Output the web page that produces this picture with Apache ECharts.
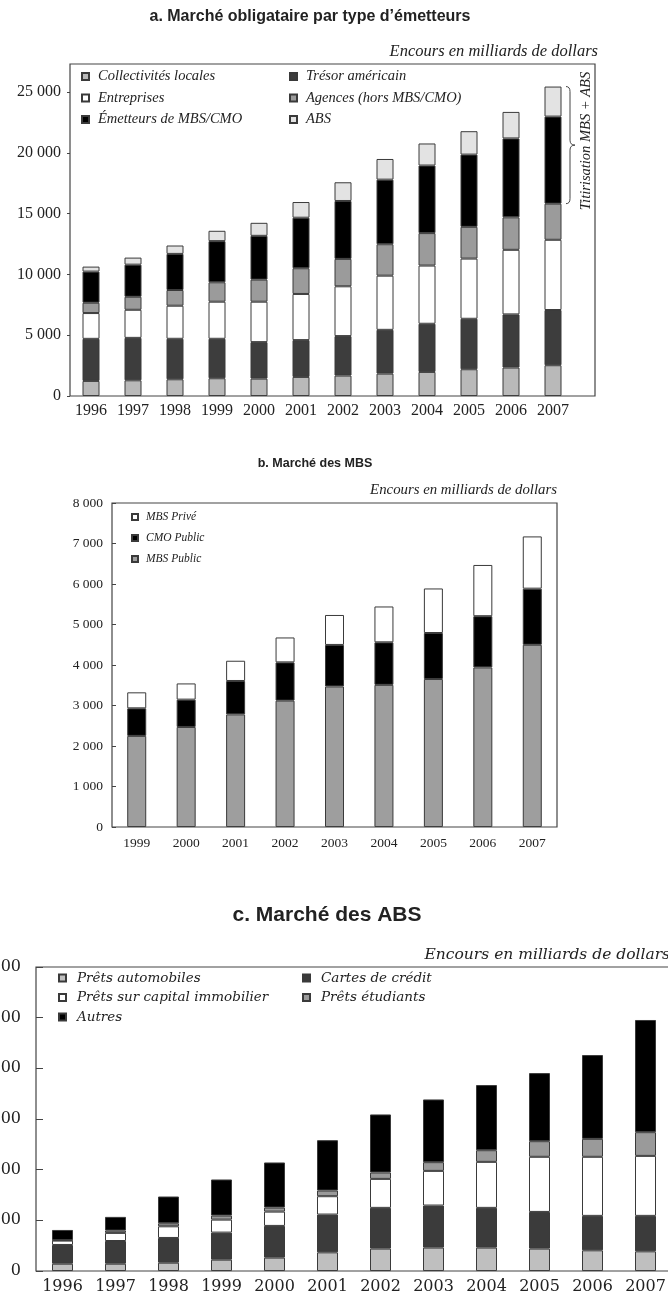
<!DOCTYPE html>
<html><head><meta charset="utf-8">
<script src="https://cdn.jsdelivr.net/npm/echarts@6/dist/echarts.min.js"></script>
<style>html,body{margin:0;padding:0;background:#fff}#c{width:668px;height:1294px}</style>
</head><body><div id="c"></div>
<script>
// ---------- Chart a data ----------
const yearsA = ['1996','1997','1998','1999','2000','2001','2002','2003','2004','2005','2006','2007'];
const collectivites = [1240,1290,1375,1460,1430,1570,1680,1840,1980,2200,2340,2530];
const tresor       = [3460,3490,3330,3245,3000,3025,3245,3600,3960,4150,4370,4540];
const entreprises  = [2120,2310,2720,3050,3325,3795,4095,4455,4785,4950,5310,5775];
const agences      = [850,1070,1290,1595,1815,2115,2255,2585,2670,2610,2670,2970];
const mbsCmo       = [2560,2640,2970,3385,3600,4155,4760,5310,5555,5940,6490,7160];
const absA         = [410,580,690,850,1070,1290,1540,1700,1815,1925,2180,2470];
const ticksA = [0,5000,10000,15000,20000,25000];

// ---------- Chart b data ----------
const yearsB = ['1999','2000','2001','2002','2003','2004','2005','2006','2007'];
const mbsPublic = [2250,2470,2780,3120,3470,3510,3655,3940,4500];
const cmoPublic = [680,675,825,945,1025,1050,1135,1265,1385];
const mbsPrive  = [395,400,500,615,740,885,1100,1265,1290];

// ---------- Chart c data ----------
const yearsC = ['1996','1997','1998','1999','2000','2001','2002','2003','2004','2005','2006','2007'];
const autos     = [72,72,82,112,132,184,221,231,231,221,204,194];
const cartes    = [185,224,244,267,313,373,402,415,392,362,340,350];
const immob     = [43,80,115,128,141,181,286,342,454,544,583,592];
const etudiants = [6,23,30,40,40,56,63,86,115,154,177,234];
const autres    = [99,135,264,356,445,497,573,619,643,672,827,1107];

const SERIF = '"Liberation Serif","Times New Roman",serif';
const WIDE = '"DejaVu Serif",serif';
const SANS = '"Liberation Sans",Arial,sans-serif';
const BORDER = '#3a3a3a';

function thousands(v){
  if (v === 0) return '0';
  const k = Math.floor(v/1000), r = v % 1000;
  if (k === 0) return String(r);
  return k + ' ' + String(r).padStart(3,'0');
}

const GA = {left:70, top:64, width:504, height:332};
const GB = {left:112, top:503, width:445, height:324};
const GC = {left:36, top:967, width:636, height:304};

function bar(name, data, color, xi, w){
  return {name, type:'bar', stack:'s'+xi, xAxisIndex:xi, yAxisIndex:xi, data, barWidth:w,
    itemStyle:{color, borderColor:BORDER, borderWidth:1}, emphasis:{disabled:true}, animation:false};
}

function legend(data, left, top, font, size, lh, gap, iw, pad){
  return {data, left, top, orient:'vertical', padding:0, itemGap:gap, itemWidth:iw, itemHeight:iw,
    icon:'rect', selectedMode:false,
    textStyle:{fontFamily:font, fontStyle:'italic', fontSize:size, lineHeight:lh, color:'#222', padding:[0,0,0,pad]}};
}

function grid(g){ return Object.assign({containLabel:false, outerBoundsMode:'none'}, g); }

const chart = echarts.init(document.getElementById('c'), null, {renderer:'canvas'});
chart.setOption({
  animation:false,
  grid:[grid(GA), grid(GB), grid(GC)],
  xAxis:[
    {type:'category', gridIndex:0, data:yearsA, axisLine:{show:false}, axisTick:{show:false},
      axisLabel:{interval:0, fontFamily:SERIF, fontSize:16, color:'#222', margin:7}},
    {type:'category', gridIndex:1, data:yearsB, axisLine:{show:false}, axisTick:{show:false},
      axisLabel:{interval:0, fontFamily:SERIF, fontSize:13.5, color:'#222', margin:9}},
    {type:'category', gridIndex:2, data:yearsC, axisLine:{show:false}, axisTick:{show:false},
      axisLabel:{interval:0, fontFamily:WIDE, fontSize:16, color:'#222', margin:8, hideOverlap:false}}
  ],
  yAxis:[
    {type:'value', gridIndex:0, min:0, max:27300, interval:5000, splitLine:{show:false},
      axisLine:{show:false}, axisTick:{show:true, length:3, lineStyle:{color:'#444'}},
      axisLabel:{fontFamily:SERIF, fontSize:16, color:'#222', margin:9, showMaxLabel:false,
        formatter:v => ticksA.includes(v) ? thousands(v) : ''}},
    {type:'value', gridIndex:1, min:0, max:8000, interval:1000, splitLine:{show:false},
      axisLine:{show:false}, axisTick:{show:true, inside:true, length:4, lineStyle:{color:'#444'}},
      axisLabel:{fontFamily:SERIF, fontSize:13.5, color:'#222', margin:9, formatter:thousands}},
    {type:'value', gridIndex:2, min:0, max:3000, interval:500, splitLine:{show:false},
      axisLine:{show:false}, axisTick:{show:true, inside:true, length:7, lineStyle:{color:'#444'}},
      axisLabel:{fontFamily:WIDE, fontSize:16, color:'#222', margin:15, formatter:thousands}}
  ],
  legend:[
    legend(['Collectivités locales','Entreprises','Émetteurs de MBS/CMO'], 81, 69, SERIF, 14.5, 14, 6.5, 7, 4),
    legend(['Trésor américain','Agences (hors MBS/CMO)','ABS'], 289, 69, SERIF, 14.5, 14, 6.5, 7, 4),
    legend(['MBS Privé','CMO Public','MBS Public'], 131, 511, SERIF, 11.5, 12, 9, 6, 3),
    legend(['Prêts automobiles','Prêts sur capital immobilier','Autres'], 58, 971, WIDE, 13.5, 14, 5.5, 7, 6),
    legend(['Cartes de crédit','Prêts étudiants'], 302, 971, WIDE, 13.5, 14, 5.5, 7, 6)
  ],
  series:[
    bar('Collectivités locales', collectivites, '#b9b9b9', 0, 17),
    bar('Trésor américain', tresor, '#3d3d3d', 0, 17),
    bar('Entreprises', entreprises, '#ffffff', 0, 17),
    bar('Agences (hors MBS/CMO)', agences, '#9b9b9b', 0, 17),
    bar('Émetteurs de MBS/CMO', mbsCmo, '#000000', 0, 17),
    bar('ABS', absA, '#e3e3e3', 0, 17),
    bar('MBS Public', mbsPublic, '#9e9e9e', 1, 19),
    bar('CMO Public', cmoPublic, '#000000', 1, 19),
    bar('MBS Privé', mbsPrive, '#ffffff', 1, 19),
    bar('Prêts automobiles', autos, '#bfbfbf', 2, 21),
    bar('Cartes de crédit', cartes, '#3b3b3b', 2, 21),
    bar('Prêts sur capital immobilier', immob, '#ffffff', 2, 21),
    bar('Prêts étudiants', etudiants, '#9a9a9a', 2, 21),
    bar('Autres', autres, '#000000', 2, 21)
  ]
});

// brace beside the 2007 bar of chart a, derived from the data
const last = yearsA.length - 1;
const topVal = collectivites[last]+tresor[last]+entreprises[last]+agences[last]+mbsCmo[last]+absA[last];
const botVal = collectivites[last]+tresor[last]+entreprises[last]+agences[last];
const pTop = chart.convertToPixel({xAxisIndex:0, yAxisIndex:0}, [yearsA[last], topVal]);
const pBot = chart.convertToPixel({xAxisIndex:0, yAxisIndex:0}, [yearsA[last], botVal]);
const x0 = pTop[0] + 13, x1 = x0 + 4, x2 = x1 + 5, r = 5;
const yT = pTop[1], yB = pBot[1], yM = (yT + yB) / 2;
const braceStyle = {fill:'none', stroke:'#444', lineWidth:1};
const brace = [
  {type:'bezierCurve', shape:{x1:x0, y1:yT, x2:x1, y2:yT+r, cpx1:x1, cpy1:yT}, style:braceStyle, silent:true},
  {type:'line', shape:{x1:x1, y1:yT+r, x2:x1, y2:yM-r}, style:braceStyle, silent:true},
  {type:'bezierCurve', shape:{x1:x1, y1:yM-r, x2:x2, y2:yM, cpx1:x1, cpy1:yM}, style:braceStyle, silent:true},
  {type:'bezierCurve', shape:{x1:x2, y1:yM, x2:x1, y2:yM+r, cpx1:x1, cpy1:yM}, style:braceStyle, silent:true},
  {type:'line', shape:{x1:x1, y1:yM+r, x2:x1, y2:yB-r}, style:braceStyle, silent:true},
  {type:'bezierCurve', shape:{x1:x1, y1:yB-r, x2:x0, y2:yB, cpx1:x1, cpy1:yB}, style:braceStyle, silent:true}
];

function txt(text, x, y, font, opts){
  return {type:'text', x, y, silent:true,
    style:Object.assign({text, fill:'#222', font, textAlign:'center', textVerticalAlign:'middle'}, opts||{})};
}
function frame(g, right){
  return {type:'rect', shape:{x:g.left, y:g.top, width:(right||g.left+g.width)-g.left, height:g.height},
    style:{fill:'none', stroke:'#444', lineWidth:1.2}, silent:true, z:10};
}

chart.setOption({
  graphic:[
    txt('a. Marché obligataire par type d’émetteurs', 310, 17, 'bold 16px '+SANS),
    txt('Encours en milliards de dollars', 598, 52, 'italic 16.5px '+SERIF, {textAlign:'right'}),
    frame(GA, 595),
    ...brace,
    {type:'text', x:586, y:141, rotation:Math.PI/2, silent:true,
      style:{text:'Titirisation MBS + ABS', font:'italic 14.5px '+SERIF, fill:'#222', textAlign:'center', textVerticalAlign:'middle'}},

    txt('b. Marché des MBS', 315, 464, 'bold 12.5px '+SANS),
    txt('Encours en milliards de dollars', 557, 490, 'italic 14.8px '+SERIF, {textAlign:'right'}),
    frame(GB),

    txt('c. Marché des ABS', 327, 915, 'bold 21px '+SANS),
    txt('Encours en milliards de dollars', 670, 955, 'italic 15.5px '+WIDE, {textAlign:'right'}),
    frame(GC, 720)
  ]
});
</script></body></html>
